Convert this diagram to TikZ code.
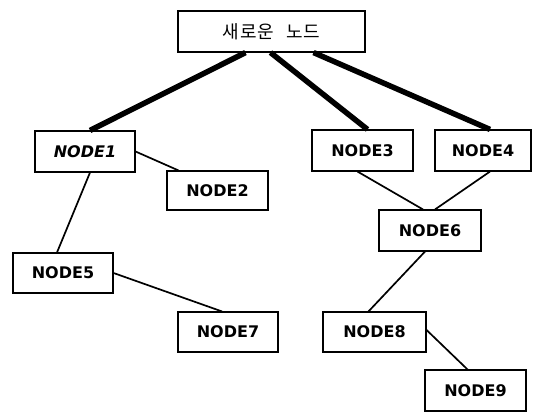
\documentclass[tikz,border=0pt]{standalone}
\usepackage{fontspec}
\setmainfont{DejaVu Sans}
\newfontfamily\krfont{Noto Sans CJK KR}
\begin{document}
\begin{tikzpicture}[x=1pt,y=-1pt,
  box/.style={draw=black,line width=1.1pt,inner sep=0pt,minimum height=41pt,
    font=\fontsize{16}{19}\selectfont\bfseries},
  thickline/.style={line width=5.5pt},
  thinline/.style={line width=1.7pt}]
\useasboundingbox (0,0) rectangle (536,412);
\node[box,minimum width=187pt,font=\krfont\fontsize{18}{21}\selectfont] (top) at (271.5,31.5) {새\hspace{1pt}로\hspace{1pt}운\hspace{12pt}노\hspace{1pt}드};
\node[box,minimum width=100pt] (n1) at (85,151.5) {\itshape NODE1};
\node[box,minimum width=101pt,minimum height=39pt] (n2) at (217.5,190.5) {NODE2};
\node[box,minimum width=101pt] (n3) at (362.5,150.5) {NODE3};
\node[box,minimum width=96pt] (n4) at (483,150.5) {NODE4};
\node[box,minimum width=102pt] (n6) at (430,230.5) {NODE6};
\node[box,minimum width=100pt,minimum height=40pt] (n5) at (63,273) {NODE5};
\node[box,minimum width=100pt,minimum height=40pt] (n7) at (228,332) {NODE7};
\node[box,minimum width=103pt,minimum height=40pt] (n8) at (374.5,332) {NODE8};
\node[box,minimum width=101pt] (n9) at (475.5,390.5) {NODE9};
\draw[thickline] ([xshift=-26pt]top.south) -- ([xshift=5pt]n1.north);
\draw[thickline] ([xshift=-1pt]top.south) -- ([xshift=5pt]n3.north);
\draw[thickline] ([xshift=42pt]top.south) -- ([xshift=7pt]n4.north);
\draw[thinline] (n1.east) -- ([xshift=-39pt]n2.north);
\draw[thinline] ([xshift=5pt]n1.south) -- ([xshift=-6pt]n5.north);
\draw[thinline] (n5.east) -- ([xshift=-6pt]n7.north);
\draw[thinline] ([xshift=-5pt]n3.south) -- ([xshift=-7pt]n6.north);
\draw[thinline] ([xshift=7pt]n4.south) -- ([xshift=5pt]n6.north);
\draw[thinline] ([xshift=-5pt]n6.south) -- ([xshift=-6pt]n8.north);
\draw[thinline] ([yshift=2pt]n8.east) -- ([xshift=-8pt]n9.north);
\end{tikzpicture}
\end{document}
